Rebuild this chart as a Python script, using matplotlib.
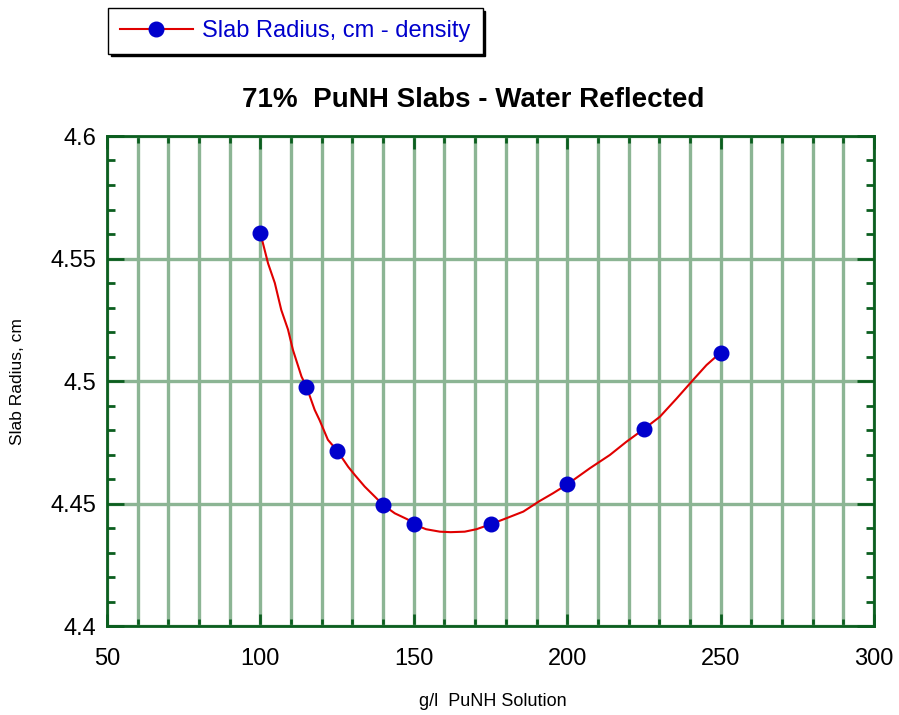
import numpy as np
import matplotlib
matplotlib.use('Agg')
import matplotlib.pyplot as plt
from matplotlib.ticker import MultipleLocator

plt.rcParams['font.family'] = ['Liberation Sans', 'DejaVu Sans']

# measured points
conc = [100, 115, 125, 140, 150, 175, 200, 225, 250]
radius = [4.5603, 4.4977, 4.4716, 4.4494, 4.4415, 4.4415, 4.4578, 4.4804, 4.5116]

# fitted curve
fit_x = [100, 102.5, 104.7, 106.8, 109, 110.6, 113.4, 115, 117.7, 119.3, 122, 125,
         128.6, 130.8, 134, 137.3, 140, 143.8, 148, 150, 154, 158.5, 162, 166.6,
         170.4, 175, 180.2, 185.7, 191, 195.4, 200, 207.4, 213.9, 219.3, 225,
         230.2, 235.7, 241, 245.4, 250]
fit_y = [4.5603, 4.548, 4.540, 4.529, 4.521, 4.5127, 4.5018, 4.4977, 4.4882, 4.484,
         4.476, 4.4716, 4.465, 4.4616, 4.4569, 4.4528, 4.4494, 4.446, 4.4435, 4.4415,
         4.4395, 4.4385, 4.4383, 4.4385, 4.4395, 4.4415, 4.4440, 4.4467, 4.4510,
         4.4542, 4.4578, 4.4644, 4.4698, 4.4752, 4.4804, 4.4854, 4.4929, 4.5004,
         4.5065, 4.5116]

W, H = 899, 715
fig = plt.figure(figsize=(W / 100, H / 100), dpi=100)
ax = fig.add_axes([107 / W, 1 - 626 / H, (874 - 107) / W, (626 - 136) / H])

spine_c = '#0b5e1f'
grid_c = '#8cb594'

ax.set_xlim(50, 300)
ax.set_ylim(4.4, 4.6)
ax.xaxis.set_major_locator(MultipleLocator(50))
ax.xaxis.set_minor_locator(MultipleLocator(10))
ax.yaxis.set_minor_locator(MultipleLocator(0.01))
ax.set_yticks([4.4, 4.45, 4.5, 4.55, 4.6])
ax.set_yticklabels(['4.4', '4.45', '4.5', '4.55', '4.6'])

ax.grid(which='both', axis='x', color=grid_c, lw=2.4)
ax.grid(which='major', axis='y', color=grid_c, lw=2.4)
ax.set_axisbelow(True)

for s in ax.spines.values():
    s.set_color(spine_c)
    s.set_linewidth(2)
ax.tick_params(which='both', direction='in', top=True, right=True, color=spine_c,
               labelsize=17)
ax.tick_params(axis='x', pad=16)
ax.tick_params(axis='y', pad=8)
ax.tick_params(which='major', length=9, width=2)
ax.tick_params(which='minor', length=5, width=2)
ax.tick_params(axis='y', which='major', length=12)
ax.tick_params(axis='y', which='minor', length=6)

ax.plot(fit_x, fit_y, color='#e00000', lw=1.5, zorder=3)
ax.plot(conc, radius, ls='none', marker='o', ms=10.5, color='#0000cc', zorder=4)

fig.text(473 / W, 1 - 100 / H, '71%  PuNH Slabs - Water Reflected', ha='center',
         va='center', fontsize=20, fontweight='bold')
fig.text(493 / W, 1 - 701 / H, 'g/l  PuNH Solution', ha='center', va='center', fontsize=13)
fig.text(18 / W, 1 - 382 / H, 'Slab Radius, cm', ha='center', va='center', fontsize=12.5,
         rotation=90)

h, = ax.plot([], [], color='#e00000', lw=1.5, marker='o', ms=10.5,
             markerfacecolor='#0000cc', markeredgecolor='#0000cc')
leg = fig.legend([h], ['Slab Radius, cm - density'], loc='upper left',
                 bbox_to_anchor=(108 / W, 1 - 8 / H), borderaxespad=0, fontsize=17,
                 handlelength=3.1, fancybox=False, edgecolor='black', framealpha=1,
                 shadow={'color': 'black', 'alpha': 1}, borderpad=0.5, handletextpad=0.4)
leg.get_frame().set_linewidth(1)
for t in leg.get_texts():
    t.set_color('#0000cc')

fig.savefig('out.png', dpi=100)
